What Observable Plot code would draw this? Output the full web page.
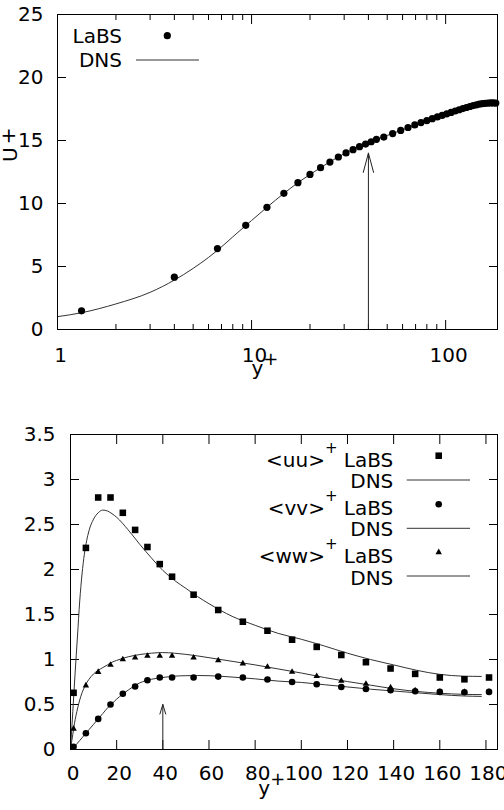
<!DOCTYPE html>
<html><head><meta charset="utf-8">
<script src="https://cdn.jsdelivr.net/npm/d3@7"></script>
<script src="https://cdn.jsdelivr.net/npm/@observablehq/plot@0.6"></script>
<style>
html,body{margin:0;padding:0;background:#fff;}
#top,#bottom{display:block;width:504px;}
svg{display:block;}
</style></head><body>
<div id="top"></div><div id="bottom"></div>
<script>
// ---------- top chart data (mean velocity, log x) ----------
const topLabsX = [1.33, 4, 6.67, 9.33, 12, 14.67, 17.33, 20, 22.67, 25.33, 28, 30.67, 33.33, 36, 38.67, 41.33, 44,
  48, 53.33, 58.67, 64, 69.33, 74.67, 80, 85.33, 90.67, 96, 101.33, 106.67, 112, 117.33, 122.67, 128, 133.33,
  138.67, 144, 149.33, 154.67, 160, 165.33, 170.67, 176, 181.33];
const topLabsU = [1.48, 4.15, 6.42, 8.27, 9.70, 10.81, 11.65, 12.31, 12.84, 13.29, 13.69, 14.01, 14.27, 14.51, 14.72, 14.90, 15.09,
  15.27, 15.55, 15.80, 16.03, 16.24, 16.42, 16.58, 16.73, 16.87, 17.00, 17.12, 17.23, 17.34, 17.44, 17.53, 17.62, 17.70,
  17.77, 17.83, 17.88, 17.92, 17.95, 17.97, 17.98, 17.98, 17.97];
const topDnsX = [1, 1.33, 2, 3, 4, 5, 6, 6.67, 8, 9.33, 10, 12, 14.67, 17.33, 20, 25, 30, 35, 40, 50, 60, 70, 80, 100, 120, 140, 160, 170, 178];
const topDnsU = [1.02, 1.33, 2.03, 2.95, 3.92, 4.85, 5.72, 6.28, 7.35, 8.25, 8.65, 9.70, 10.80, 11.65, 12.30, 13.25, 13.95, 14.45, 14.85, 15.40, 15.85, 16.25, 16.60, 17.15, 17.55, 17.85, 18.02, 18.07, 18.05];
const topMajorTicks = [1, 10, 100];
const topMinorTicks = [2, 3, 4, 5, 6, 7, 8, 9, 20, 30, 40, 50, 60, 70, 80, 90];
const topYTicks = [0, 5, 10, 15, 20, 25];
const arrowX = 40;
const topArrowY = [0, 14.0];

// ---------- bottom chart data (rms fluctuations) ----------
const botX = [1.33, 6.67, 12, 17.33, 22.67, 28, 33.33, 38.67, 44, 53.33, 64, 74.67, 85.33, 96, 106.67, 117.33, 128, 138.67, 149.33, 160, 170.67, 181.33];
const uuLabs = [0.63, 2.24, 2.80, 2.80, 2.63, 2.44, 2.25, 2.06, 1.92, 1.72, 1.55, 1.42, 1.32, 1.22, 1.14, 1.05, 0.97, 0.90, 0.84, 0.80, 0.78, 0.80];
const vvLabs = [0.03, 0.18, 0.34, 0.50, 0.62, 0.70, 0.77, 0.80, 0.80, 0.80, 0.81, 0.80, 0.777, 0.75, 0.725, 0.695, 0.673, 0.658, 0.647, 0.64, 0.636, 0.64];
const wwLabs = [0.23, 0.71, 0.86, 0.94, 1.00, 1.02, 1.04, 1.04, 1.04, 1.02, 0.99, 0.955, 0.917, 0.862, 0.814, 0.762, 0.728, 0.688, 0.655, 0.64, 0.64, 0.64];
const dnsX = [0, 1, 2, 3, 4, 5, 6, 7, 8, 10, 12, 14, 16, 18, 20, 25, 30, 35, 40, 45, 50, 55, 60, 70, 80, 90, 100, 110, 120, 130, 140, 150, 160, 170, 178];
const uuDns = [0, 0.42, 0.85, 1.25, 1.65, 1.95, 2.17, 2.32, 2.43, 2.56, 2.63, 2.66, 2.65, 2.62, 2.58, 2.44, 2.28, 2.13, 1.99, 1.88, 1.79, 1.70, 1.62, 1.48, 1.38, 1.29, 1.225, 1.15, 1.07, 1.00, 0.94, 0.88, 0.835, 0.815, 0.812];
const vvDns = [0, 0.02, 0.04, 0.07, 0.10, 0.13, 0.16, 0.19, 0.22, 0.28, 0.34, 0.40, 0.46, 0.51, 0.56, 0.66, 0.74, 0.78, 0.80, 0.815, 0.82, 0.822, 0.82, 0.805, 0.785, 0.76, 0.745, 0.72, 0.695, 0.67, 0.65, 0.63, 0.61, 0.595, 0.59];
const wwDns = [0, 0.17, 0.33, 0.45, 0.55, 0.63, 0.69, 0.74, 0.78, 0.84, 0.88, 0.91, 0.94, 0.97, 0.99, 1.03, 1.055, 1.07, 1.077, 1.07, 1.057, 1.04, 1.02, 0.98, 0.94, 0.895, 0.85, 0.80, 0.755, 0.715, 0.675, 0.645, 0.625, 0.613, 0.61];
const botXTicks = [0, 20, 40, 60, 80, 100, 120, 140, 160, 180];
const botYTicks = [0, 0.5, 1, 1.5, 2, 2.5, 3, 3.5];
const botArrowY = [0, 0.5];

// ---------- text ----------
const topLegend = ["LaBS", "DNS"];
const botLegendSeries = ["<uu>", "<vv>", "<ww>"];
const labsName = "LaBS", dnsName = "DNS", supPlus = "+";
const xTitle = "y", yTitleTop = "U";

const FONT = "'DejaVu Sans', sans-serif";
const LINE = "#333";

const zipXY = (xs, ys) => xs.map((x, i) => ({x, y: ys[i]}));

function axisSet(xMajor, xMinor, yTicks, xPad, yPad, xdx) {
  const m = [
    Plot.axisX(xMajor, {anchor: "bottom", tickSize: -9, tickFormat: () => "", label: null}),
    Plot.axisX(xMajor, {anchor: "top", tickSize: -9, tickFormat: () => "", label: null}),
    Plot.axisX(xMajor, {anchor: "bottom", tickSize: 0, tickPadding: xPad, dx: xdx, tickFormat: d => String(d), label: null}),
    Plot.axisY(yTicks, {anchor: "left", tickSize: -9, tickFormat: () => "", label: null}),
    Plot.axisY(yTicks, {anchor: "right", tickSize: -9, tickFormat: () => "", label: null}),
    Plot.axisY(yTicks, {anchor: "left", tickSize: 0, tickPadding: yPad, tickFormat: d => String(d), label: null})
  ];
  if (xMinor) {
    m.push(Plot.axisX(xMinor, {anchor: "bottom", tickSize: -5, tickFormat: () => "", label: null}));
    m.push(Plot.axisX(xMinor, {anchor: "top", tickSize: -5, tickFormat: () => "", label: null}));
  }
  return m;
}

function xTitleMark(offsetX) {
  return (index, scales, values, dim) => {
    const g = d3.create("svg:g").attr("font-family", FONT).attr("font-size", 20).attr("fill", "#000").attr("text-anchor", "start");
    const t = g.append("text").attr("text-anchor", "start").attr("x", dim.marginLeft + offsetX).attr("y", dim.height - dim.marginBottom + 46);
    t.append("tspan").text(xTitle);
    t.append("tspan").attr("font-size", 18).attr("dy", -10).text(supPlus);
    return g.node();
  };
}

// ---------- TOP ----------
const topLegendMark = (index, scales, values, dim) => {
  const L = dim.marginLeft, T = dim.marginTop;
  const g = d3.create("svg:g").attr("font-family", FONT).attr("font-size", 20).attr("fill", "#000");
  g.append("text").attr("x", L + 65).attr("y", T + 29).attr("text-anchor", "end").text(topLegend[0]);
  g.append("text").attr("x", L + 65).attr("y", T + 53.3).attr("text-anchor", "end").text(topLegend[1]);
  g.append("path").attr("transform", `translate(${L + 110.3},${T + 21.7})`).attr("d", d3.symbol(d3.symbolCircle, Math.PI * 3.6 * 3.6)());
  g.append("line").attr("x1", L + 79).attr("x2", L + 142).attr("y1", T + 46).attr("y2", T + 46).attr("stroke", LINE);
  return g.node();
};
const topYTitle = (index, scales, values, dim) => {
  const g = d3.create("svg:g").attr("font-family", FONT).attr("font-size", 20).attr("fill", "#000").attr("text-anchor", "start");
  const t = g.append("text").attr("text-anchor", "start").attr("transform", `translate(${dim.marginLeft - 40},${dim.marginTop + 148}) rotate(-90)`);
  t.append("tspan").text(yTitleTop);
  t.append("tspan").attr("dx", 3).attr("dy", -2).text(supPlus);
  return g.node();
};

const topChart = Plot.plot({
  width: 504, height: 400,
  marginLeft: 57, marginRight: 7, marginTop: 14, marginBottom: 71,
  style: {fontFamily: FONT, fontSize: "20px", color: "#000", background: "#fff", overflow: "visible"},
  x: {type: "log", domain: [1, 185]},
  y: {domain: [0, 25]},
  marks: [
    ...axisSet(topMajorTicks, topMinorTicks, topYTicks, 18, 14, 3),
    Plot.line(zipXY(topDnsX, topDnsU), {x: "x", y: "y", stroke: LINE, strokeWidth: 1, curve: "monotone-x"}),
    Plot.dot(zipXY(topLabsX, topLabsU), {x: "x", y: "y", r: 3.6, fill: "#000"}),
    Plot.arrow([{x: arrowX, y1: topArrowY[0], y2: topArrowY[1]}], {x: "x", y1: "y1", y2: "y2", stroke: "#222", strokeWidth: 1, headLength: 30, headAngle: 30}),
    Plot.frame({stroke: "#000", strokeWidth: 1}),
    topLegendMark,
    xTitleMark(194.5),
    topYTitle
  ]
});
document.getElementById("top").append(topChart);

// ---------- BOTTOM ----------
const botR = [3.7, 3.3, 2.4];
const botLegendMark = (index, scales, values, dim) => {
  const L = dim.marginLeft, T = dim.marginTop;
  const g = d3.create("svg:g").attr("font-family", FONT).attr("font-size", 20).attr("fill", "#000");
  const base = [32.7, 80.8, 128.8], dnsBase = [53.9, 102.3, 150.8];
  const symY = [21.7, 70.3, 118.3], lineY = [46, 94.3, 142];
  const d3sym = [d3.symbolSquare, d3.symbolCircle, d3.symbolTriangle];
  botLegendSeries.forEach((name, i) => {
    const t = g.append("text").attr("x", L + 323.3).attr("y", T + base[i]).attr("text-anchor", "end");
    t.append("tspan").text(name);
    t.append("tspan").attr("font-size", 15).attr("dy", -14).text(supPlus);
    t.append("tspan").attr("font-size", 20).attr("dy", 14).text(" " + labsName);
    g.append("text").attr("x", L + 323.3).attr("y", T + dnsBase[i]).attr("text-anchor", "end").text(dnsName);
    g.append("path").attr("transform", `translate(${L + 368.7},${T + symY[i]})`).attr("d", d3.symbol(d3sym[i], Math.PI * botR[i] * botR[i])());
    g.append("line").attr("x1", L + 336.7).attr("x2", L + 400).attr("y1", T + lineY[i]).attr("y2", T + lineY[i]).attr("stroke", LINE);
  });
  return g.node();
};

const botChart = Plot.plot({
  width: 504, height: 410,
  marginLeft: 70, marginRight: 7, marginTop: 34, marginBottom: 61,
  style: {fontFamily: FONT, fontSize: "20px", color: "#000", background: "#fff", overflow: "visible"},
  x: {domain: [0, 185]},
  y: {domain: [0, 3.5]},
  marks: [
    ...axisSet(botXTicks, null, botYTicks, 16, 15, 2.5),
    Plot.line(zipXY(dnsX, uuDns), {x: "x", y: "y", stroke: LINE, strokeWidth: 1, curve: "monotone-x"}),
    Plot.line(zipXY(dnsX, vvDns), {x: "x", y: "y", stroke: LINE, strokeWidth: 1, curve: "monotone-x"}),
    Plot.line(zipXY(dnsX, wwDns), {x: "x", y: "y", stroke: LINE, strokeWidth: 1, curve: "monotone-x"}),
    Plot.dot(zipXY(botX, wwLabs), {x: "x", y: "y", symbol: "triangle", r: botR[2], fill: "#000"}),
    Plot.dot(zipXY(botX, vvLabs), {x: "x", y: "y", symbol: "circle", r: botR[1], fill: "#000"}),
    Plot.dot(zipXY(botX, uuLabs), {x: "x", y: "y", symbol: "square", r: botR[0], fill: "#000"}),
    Plot.arrow([{x: arrowX, y1: botArrowY[0], y2: botArrowY[1]}], {x: "x", y1: "y1", y2: "y2", stroke: "#222", strokeWidth: 1, headLength: 15, headAngle: 34}),
    Plot.frame({stroke: "#000", strokeWidth: 1}),
    botLegendMark,
    xTitleMark(188.3)
  ]
});
document.getElementById("bottom").append(botChart);
</script>
</body></html>
